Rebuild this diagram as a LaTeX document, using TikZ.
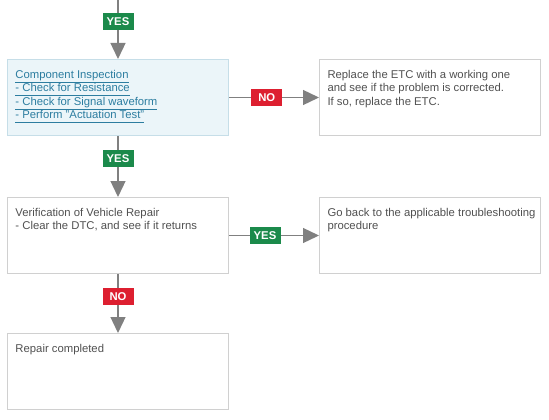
\documentclass[tikz,border=0pt]{standalone}
\usepackage{fontspec}
\setmainfont{Liberation Sans}
\usetikzlibrary{arrows.meta}
\newcommand{\boxtxt}[1]{\parbox[t][57pt][t]{205pt}{\fontsize{11.3pt}{13.5pt}\selectfont\raggedright\strut #1}}
\newcommand{\lnk}[1]{\underline{#1\vphantom{p}}}
\begin{document}
\begin{tikzpicture}[x=1pt, y=1pt,
  box/.style={draw=boxline, line width=1pt, rectangle, inner xsep=8pt, inner ysep=9.5pt, anchor=north west, text=textgray},
  bluebox/.style={box, draw=blueline, fill=bluefill, text=linkblue},
  conn/.style={draw=arrowgray, line width=1.3pt, -{Triangle[length=16pt,width=15pt]}},
  tag/.style={rectangle, inner sep=0pt, minimum width=31pt, minimum height=17pt, text=white, font=\fontsize{11.3pt}{12pt}\selectfont\bfseries},
  yestag/.style={tag, fill=yesgreen},
  notag/.style={tag, fill=nored}]
\definecolor{textgray}{HTML}{505050}
\definecolor{linkblue}{HTML}{2C7DA0}
\definecolor{boxline}{HTML}{D0D0D0}
\definecolor{blueline}{HTML}{C6DEE8}
\definecolor{bluefill}{HTML}{EBF5F9}
\definecolor{arrowgray}{HTML}{808080}
\definecolor{yesgreen}{HTML}{1B8A4B}
\definecolor{nored}{HTML}{DD1F30}
\useasboundingbox (0,0) rectangle (549,-420);
%Boxes:
\node[bluebox] (insp) at (7,-59) {\boxtxt{\lnk{Component Inspection}\\\lnk{- Check for Resistance}\\\lnk{- Check for Signal waveform}\\\lnk{- Perform "Actuation Test"}}};
\node[box] (replace) at (319,-59) {\boxtxt{Replace the ETC with a working one\\and see if the problem is corrected.\\If so, replace the ETC.}};
\node[box] (verify) at (7,-197) {\boxtxt{Verification of Vehicle Repair\\- Clear the DTC, and see if it returns}};
\node[box] (goback) at (319,-197) {\boxtxt{\mbox{Go back to the applicable troubleshooting}\\procedure}};
\node[box] (done) at (7,-333) {\boxtxt{Repair completed}};
%Connectors:
\coordinate (start) at (insp.north |- 0,0);
\draw[conn] (start) -- node[yestag, pos=.36] (yes1) {YES} (insp.north);
\draw[conn] (insp.east) -- node[notag, pos=.42] (no1) {NO} (replace.west);
\draw[conn] (insp.south) -- node[yestag, pos=.37] (yes2) {YES} (verify.north);
\draw[conn] (verify.east) -- node[yestag, pos=.40] (yes3) {YES} (goback.west);
\draw[conn] (verify.south) -- node[notag, pos=.38] (no2) {NO} (done.north);
\end{tikzpicture}
\end{document}
